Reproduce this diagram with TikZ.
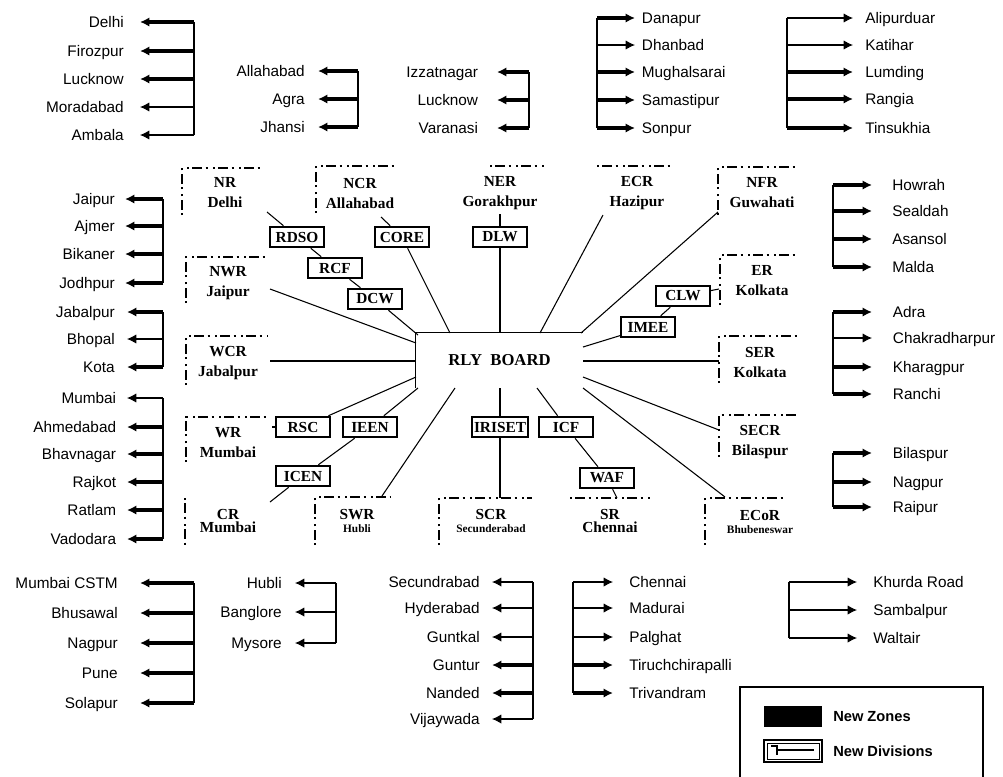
\documentclass[tikz,border=0pt]{standalone}
\usepackage{fontspec}
\setmainfont{Liberation Serif}
\newfontfamily\cityf{Liberation Sans}
\usetikzlibrary{arrows.meta}
\tikzset{
  thn/.style={line width=0.8pt},
  thk/.style={line width=2.3pt},
  bus/.style={line width=1.4pt},
  arr/.style={-{Latex[length=7pt,width=7pt]}},
  city/.style={font=\cityf\fontsize{11.5}{13}\selectfont, inner ysep=0pt, text height=8pt, text depth=0pt},
  cityL/.style={city, anchor=east},
  cityR/.style={city, anchor=west},
  zone/.style={font=\bfseries\fontsize{11.5}{15}\selectfont, align=center, inner sep=0pt},
  zsmall/.style={font=\bfseries\fontsize{11.5}{10}\selectfont, align=center, inner sep=0pt},
  zedge/.style={line width=0.8pt, dash pattern=on 1.5pt off 2.5pt on 7pt off 3pt on 1.5pt off 4pt},
  dbox/.style={draw, fill=white, line width=1.4pt, font=\bfseries\fontsize{11.5}{12}\selectfont,
    minimum width=40pt, minimum height=15.5pt, inner sep=1.5pt},
  board/.style={minimum width=125.25pt, minimum height=41.25pt, font=\bfseries\fontsize{12.5}{14}\selectfont, inner sep=0pt},
  lbl/.style={font=\cityf\bfseries\fontsize{11}{13}\selectfont, anchor=west, inner sep=0pt}
}
\begin{document}
\begin{tikzpicture}[x=0.75pt,y=-0.75pt]
\useasboundingbox (0,0) rectangle (1003,776);

% ---------------- Railway Board ----------------
\node[board] (board) at (499.5,360.5) {RLY\ \ BOARD};
\draw[thn] (board.south west) -- (board.north west) -- (board.north east);

% ---------------- Zones ----------------
\newcommand\sm[1]{{\fontsize{8.5}{9}\selectfont #1}}
\node[zone] (NR)  at (225,193) {NR\\Delhi};
\node[zone] (NCR) at (360,193) {NCR\\Allahabad};
\node[zone] (NER) at (500,193) {NER\\Gorakhpur};
\node[zone] (ECR) at (637,193) {ECR\\Hazipur};
\node[zone] (NFR) at (762,193) {NFR\\Guwahati};
\node[zone] (NWR) at (228,283) {NWR\\Jaipur};
\node[zone] (WCR) at (228,363) {WCR\\Jabalpur};
\node[zone] (WR)  at (228,443) {WR\\Mumbai};
\node[zone] (ER)  at (762,281) {ER\\Kolkata};
\node[zone] (SER) at (760,362) {SER\\Kolkata};
\node[zone] (SECR) at (760,442) {SECR\\Bilaspur};
\node[zsmall] (CR)  at (228,521) {CR\\Mumbai};
\node[zsmall] (SWR) at (357,521) {SWR\\\sm{Hubli}};
\node[zsmall] (SCR) at (491,521) {SCR\\\sm{Secunderabad}};
\node[zsmall] (SR)  at (610,521) {SR\\Chennai};
\node[zsmall] (ECoR) at (760,522) {ECoR\\\sm{Bhubeneswar}};

% zone frames (partial dash-dot edges)
\foreach \x/\y/\w/\h in {182/168/82/47, 316/166/82/47, 718/167/80/48, 720/255/80/50,
  719/336/80/47, 719/415/80/42, 705/498/80/47, 439/498/93/47, 315/497/75/48,
  186/417/80/45, 186/336/82/49, 186/257/82/46}{
  \draw[zedge] (\x,\y+\h) -- (\x,\y) -- (\x+\w,\y);
}
\draw[zedge] (490,166) -- (547,166);
\draw[zedge] (597,166) -- (675,166);
\draw[zedge] (570,498) -- (650,498);
\draw[zedge] (185,498) -- (185,545);

% ---------------- Units ----------------
\node[dbox] (rdso) at (297,237) {RDSO};
\node[dbox] (rcf) at (335,268) {RCF};
\node[dbox] (dcw) at (375,299) {DCW};
\node[dbox] (core) at (402,237) {CORE};
\node[dbox] (dlw) at (500,237) {DLW};
\node[dbox] (clw) at (683,296) {CLW};
\node[dbox] (imee) at (648,327) {IMEE};
\node[dbox] (rsc) at (303,427) {RSC};
\node[dbox] (ieen) at (370,427) {IEEN};
\node[dbox] (icen) at (303,476) {ICEN};
\node[dbox] (iriset) at (500,427) {IRISET};
\node[dbox] (icf) at (566,427) {ICF};
\node[dbox] (waf) at (607,478) {WAF};

% ---------------- connection points ----------------
\coordinate (zNR) at (267,212);   \coordinate (bNR) at (418,335);
\coordinate (zNCR) at (381,217);  \coordinate (bNCR) at (450,333);
\coordinate (zNER) at (500,214);  \coordinate (bNER) at (500,333);
\coordinate (zECR) at (603,215);  \coordinate (bECR) at (540,333);
\coordinate (zNFR) at (718,212);  \coordinate (bNFR) at (581,333);
\coordinate (zER) at (719,289);   \coordinate (bER) at (583,347);
\coordinate (zSER) at (719,361);  \coordinate (bSER) at (583,361);
\coordinate (zSECR) at (719,430); \coordinate (bSECR) at (583,377);
\coordinate (zECoR) at (725,497); \coordinate (bECoR) at (583,388);
\coordinate (zSR) at (617,498);   \coordinate (bSR) at (537,388);
\coordinate (zSCR) at (500,498);  \coordinate (bSCR) at (500,388);
\coordinate (zSWR) at (382,496);  \coordinate (bSWR) at (455,388);
\coordinate (zCR) at (270,502);   \coordinate (bCR) at (418,388);
\coordinate (zWR) at (272,427);   \coordinate (bWR) at (416,377);
\coordinate (zWCR) at (270,361);  \coordinate (bWCR) at (416,361);
\coordinate (zNWR) at (270,289);  \coordinate (bNWR) at (416,343);

\draw[thn] (zNR) -- (rdso);  \draw[thn] (rdso) -- (rcf);
\draw[thn] (rcf) -- (dcw);   \draw[thn] (dcw) -- (bNR);
\draw[thn] (zNCR) -- (core); \draw[thn] (core) -- (bNCR);
\draw[thn] (zNER) -- (dlw);  \draw[thn] (dlw) -- (bNER);
\draw[thn] (zECR) -- (bECR);
\draw[thn] (zNFR) -- (bNFR);
\draw[thn] (zER) -- (clw);   \draw[thn] (clw) -- (imee); \draw[thn] (imee) -- (bER);
\draw[thn] (zSER) -- (bSER);
\draw[thn] (zSECR) -- (bSECR);
\draw[thn] (zECoR) -- (bECoR);
\draw[thn] (bSR) -- (icf);   \draw[thn] (icf) -- (waf);  \draw[thn] (waf) -- (zSR);
\draw[thn] (bSCR) -- (iriset); \draw[thn] (iriset) -- (zSCR);
\draw[thn] (bSWR) -- (zSWR);
\draw[thn] (bCR) -- (ieen);  \draw[thn] (ieen) -- (icen); \draw[thn] (icen) -- (zCR);
\draw[thn] (bWR) -- (rsc);   \draw[thn] (rsc) -- (zWR);
\draw[thn] (zWCR) -- (bWCR);
\draw[thn] (zNWR) -- (bNWR);

% ---------------- Divisions ----------------
% NR
\foreach \i/\t/\y/\s in {1/Delhi/22/thk,2/Firozpur/51/thk,3/Lucknow/79/thk,4/Moradabad/107/thn,5/Ambala/135/thn}{
  \node[cityL, inner xsep=12pt] (nr\i) at (140,\y) {\t};
  \coordinate (nrb\i) at (194,\y);
  \draw[\s,arr] (nrb\i) -- (nr\i);
}
\draw[thn] (nrb1) -- (nrb5);
% NCR
\foreach \i/\t/\y in {1/Allahabad/71,2/Agra/99,3/Jhansi/127}{
  \node[cityL, inner xsep=9.75pt] (ncr\i) at (318,\y) {\t};
  \coordinate (ncrb\i) at (358,\y);
  \draw[thk,arr] (ncrb\i) -- (ncr\i);
}
\draw[bus] (ncrb1) -- (ncrb3);
% NER
\foreach \i/\t/\y in {1/Izzatnagar/72,2/Lucknow/100,3/Varanasi/128}{
  \node[cityL, inner xsep=14pt] (ner\i) at (497,\y) {\t};
  \coordinate (nerb\i) at (529,\y);
  \draw[thk,arr] (nerb\i) -- (ner\i);
}
\draw[bus] (nerb1) -- (nerb3);
% ECR
\foreach \i/\t/\y/\s in {1/Danapur/18/thk,2/Dhanbad/45/thn,3/Mughalsarai/72/thk,4/Samastipur/100/thk,5/Sonpur/128/thk}{
  \node[cityR, inner xsep=5pt] (ecr\i) at (635,\y) {\t};
  \coordinate (ecrb\i) at (597,\y);
  \draw[\s,arr] (ecrb\i) -- (ecr\i);
}
\draw[bus] (ecrb1) -- (ecrb5);
% NFR
\foreach \i/\t/\y/\s in {1/Alipurduar/18/thn,2/Katihar/45/thn,3/Lumding/72/thk,4/Rangia/99/thk,5/Tinsukhia/128/thk}{
  \node[cityR, inner xsep=9pt] (nfr\i) at (853,\y) {\t};
  \coordinate (nfrb\i) at (787,\y);
  \draw[\s,arr] (nfrb\i) -- (nfr\i);
}
\draw[thn] (nfrb1) -- (nfrb5);
% NWR
\foreach \i/\t/\y in {1/Jaipur/199,2/Ajmer/226,3/Bikaner/254,4/Jodhpur/283}{
  \node[cityL, inner xsep=7.5pt] (nwr\i) at (125,\y) {\t};
  \coordinate (nwrb\i) at (163,\y);
  \draw[thk,arr] (nwrb\i) -- (nwr\i);
}
\draw[bus] (nwrb1) -- (nwrb4);
% WCR
\foreach \i/\t/\y/\s in {1/Jabalpur/312/thk,2/Bhopal/339/thn,3/Kota/367/thk}{
  \node[cityL, inner xsep=9pt] (wcr\i) at (127,\y) {\t};
  \coordinate (wcrb\i) at (163,\y);
  \draw[\s,arr] (wcrb\i) -- (wcr\i);
}
\draw[bus] (wcrb1) -- (wcrb3);
% WR
\foreach \i/\t/\y/\s in {1/Mumbai/398/thn,2/Ahmedabad/427/thk,3/Bhavnagar/454/thk,4/Rajkot/482/thk,5/Ratlam/510/thk,6/Vadodara/539/thk}{
  \node[cityL, inner xsep=8pt] (wr\i) at (127,\y) {\t};
  \coordinate (wrb\i) at (163,\y);
  \draw[\s,arr] (wrb\i) -- (wr\i);
}
\draw[bus] (wrb1) -- (wrb6);
% CR
\foreach \i/\t/\y in {1/Mumbai CSTM/583,2/Bhusawal/613,3/Nagpur/643,4/Pune/673,5/Solapur/703}{
  \node[cityL, inner xsep=16.5pt] (cr\i) at (140,\y) {\t};
  \coordinate (crb\i) at (194,\y);
  \draw[thk,arr] (crb\i) -- (cr\i);
}
\draw[bus] (crb1) -- (crb5);
% SWR
\foreach \i/\t/\y in {1/Hubli/583,2/Banglore/612,3/Mysore/643}{
  \node[cityL, inner xsep=9.75pt] (swr\i) at (295,\y) {\t};
  \coordinate (swrb\i) at (336,\y);
  \draw[thn,arr] (swrb\i) -- (swr\i);
}
\draw[thn] (swrb1) -- (swrb3);
% SCR
\foreach \i/\t/\y/\s in {1/Secundrabad/582/thn,2/Hyderabad/608/thn,3/Guntkal/637/thn,4/Guntur/665/thk,5/Nanded/693/thk,6/Vijaywada/719/thn}{
  \node[cityL, inner xsep=9pt] (scr\i) at (492,\y) {\t};
  \coordinate (scrb\i) at (533,\y);
  \draw[\s,arr] (scrb\i) -- (scr\i);
}
\draw[thn] (scrb1) -- (scrb6);
% SR
\foreach \i/\t/\y/\s in {1/Chennai/582/thn,2/Madurai/608/thn,3/Palghat/637/thn,4/Tiruchchirapalli/665/thk,5/Trivandram/693/thk}{
  \node[cityR, inner xsep=12pt] (sr\i) at (613,\y) {\t};
  \coordinate (srb\i) at (573,\y);
  \draw[\s,arr] (srb\i) -- (sr\i);
}
\draw[thn] (srb1) -- (srb5);
% ECoR
\foreach \i/\t/\y in {1/Khurda Road/582,2/Sambalpur/610,3/Waltair/638}{
  \node[cityR, inner xsep=12pt] (ecor\i) at (857,\y) {\t};
  \coordinate (ecorb\i) at (789,\y);
  \draw[thn,arr] (ecorb\i) -- (ecor\i);
}
\draw[thn] (ecorb1) -- (ecorb3);
% ER
\foreach \i/\t/\y in {1/Howrah/185,2/Sealdah/211,3/Asansol/239,4/Malda/267}{
  \node[cityR, inner xsep=15pt] (er\i) at (872,\y) {\t};
  \coordinate (erb\i) at (833,\y);
  \draw[thk,arr] (erb\i) -- (er\i);
}
\draw[bus] (erb1) -- (erb4);
% SER
\foreach \i/\t/\y/\s in {1/Adra/312/thk,2/Chakradharpur/338/thn,3/Kharagpur/367/thk,4/Ranchi/394/thk}{
  \node[cityR, inner xsep=15.5pt] (ser\i) at (872,\y) {\t};
  \coordinate (serb\i) at (833,\y);
  \draw[\s,arr] (serb\i) -- (ser\i);
}
\draw[bus] (serb1) -- (serb4);
% SECR
\foreach \i/\t/\y in {1/Bilaspur/453,2/Nagpur/482,3/Raipur/507}{
  \node[cityR, inner xsep=15.5pt] (secr\i) at (872,\y) {\t};
  \coordinate (secrb\i) at (833,\y);
  \draw[thk,arr] (secrb\i) -- (secr\i);
}
\draw[bus] (secrb1) -- (secrb3);

% ---------------- Legend ----------------
\draw[thn] (740,800) -- (740,687) -- (983,687) -- (983,800);
\fill (764,706) rectangle (822,727);
\node[lbl] (lz) at (833,717) {New Zones};
\draw[line width=1pt] (764,740) rectangle (822,762);
\draw[line width=0.6pt] (767,743) rectangle (819,759);
\draw[line width=2pt] (778,750) -- (814,750);
\draw[line width=0.8pt] (771,746) -- (777,746) -- (777,755);
\node[lbl] (ld) at (833,751) {New Divisions};
\end{tikzpicture}
\end{document}
